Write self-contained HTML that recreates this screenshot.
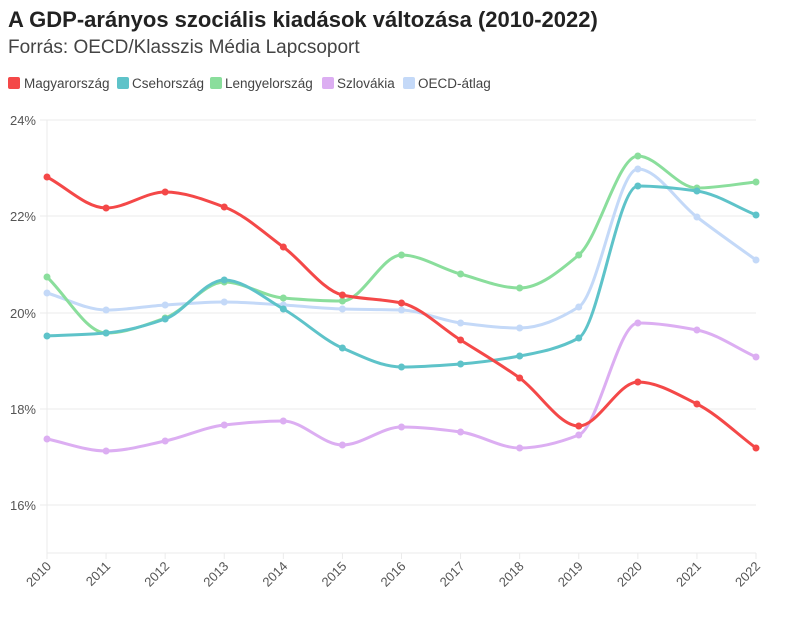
<!DOCTYPE html>
<html><head><meta charset="utf-8"><style>
body{margin:0;background:#fff;font-family:"Liberation Sans",sans-serif;}
svg text{font-family:"Liberation Sans",sans-serif;}
</style></head><body>
<svg id="s" width="800" height="624" xmlns="http://www.w3.org/2000/svg">
<text x="8" y="27" font-size="22" font-weight="bold" fill="#222">A GDP-arányos szociális kiadások változása (2010-2022)</text>
<text x="8" y="53" font-size="19" fill="#444">Forrás: OECD/Klasszis Média Lapcsoport</text>
<g font-size="13.5" fill="#444">
<rect x="8" y="77" width="12" height="12" rx="2" fill="#f44848"/><text x="24" y="88">Magyarország</text>
<rect x="117" y="77" width="12" height="12" rx="2" fill="#5ec3c9"/><text x="132" y="88">Csehország</text>
<rect x="210" y="77" width="12" height="12" rx="2" fill="#8ade9c"/><text x="225" y="88">Lengyelország</text>
<rect x="322" y="77" width="12" height="12" rx="2" fill="#dcaef2"/><text x="337" y="88">Szlovákia</text>
<rect x="403" y="77" width="12" height="12" rx="2" fill="#c4d9f8"/><text x="418" y="88">OECD-átlag</text>
</g>
<g id="grid" stroke="#ebebeb" stroke-width="1"></g>
<g id="lines"></g>
</svg>
<script>
const s=document.getElementById('s'),g=document.getElementById('grid'),L=document.getElementById('lines');
const NS='http://www.w3.org/2000/svg';
function el(t,a,p){const e=document.createElementNS(NS,t);for(const k in a)e.setAttribute(k,a[k]);(p||s).appendChild(e);return e;}
const x0=47,x1=756,step=(x1-x0)/12;
[[120,'24%'],[216,'22%'],[313,'20%'],[409,'18%'],[505,'16%']].forEach(([y,t])=>{
 el('line',{x1:40,x2:x1,y1:y,y2:y},g);
 const tx=el('text',{x:36,y:y+5,'font-size':13,fill:'#555','text-anchor':'end'});tx.textContent=t;});
el('line',{x1:x0,x2:x0,y1:120,y2:553},g);
el('line',{x1:x0,x2:x1,y1:553,y2:553},g);
for(let i=0;i<13;i++){const x=x0+i*step;el('line',{x1:x,x2:x,y1:553,y2:559},g);
 const t=el('text',{x:x+5,y:567,'font-size':13,fill:'#555','text-anchor':'end',transform:`rotate(-45 ${x+5} 567)`});t.textContent=2010+i;}
const D=[
['#c4d9f8',[293,310,305,302,305,309,310,323,328,307,169,217,260]],
['#dcaef2',[439,451,441,425,421,445,427,432,448,435,323,330,357]],
['#8ade9c',[277,333,318,282,298,301,255,274,288,255,156,188,182]],
['#5ec3c9',[336,333,319,280,309,348,367,364,356,338,186,191,215]],
['#f44848',[177,208,192,207,247,295,303,340,378,426,382,404,448]]];
function mono(xs,ys){const n=xs.length,d=[],m=[];for(let i=0;i<n-1;i++)d.push((ys[i+1]-ys[i])/(xs[i+1]-xs[i]));
 m[0]=d[0];m[n-1]=d[n-2];for(let i=1;i<n-1;i++){m[i]=(d[i-1]*d[i]>0)?2/(1/d[i-1]+1/d[i]):0;}
 let p=`M${xs[0]},${ys[0]}`;for(let i=0;i<n-1;i++){const h=(xs[i+1]-xs[i])/3;p+=`C${xs[i]+h},${ys[i]+m[i]*h} ${xs[i+1]-h},${ys[i+1]-m[i+1]*h} ${xs[i+1]},${ys[i+1]}`;}return p;}
D.forEach(([c,ys])=>{const xs=ys.map((_,i)=>x0+i*step);
 el('path',{d:mono(xs,ys),fill:'none',stroke:c,'stroke-width':3},L);
 xs.forEach((x,i)=>el('circle',{cx:x,cy:ys[i],r:3.5,fill:c},L));});
</script>
</body></html>
